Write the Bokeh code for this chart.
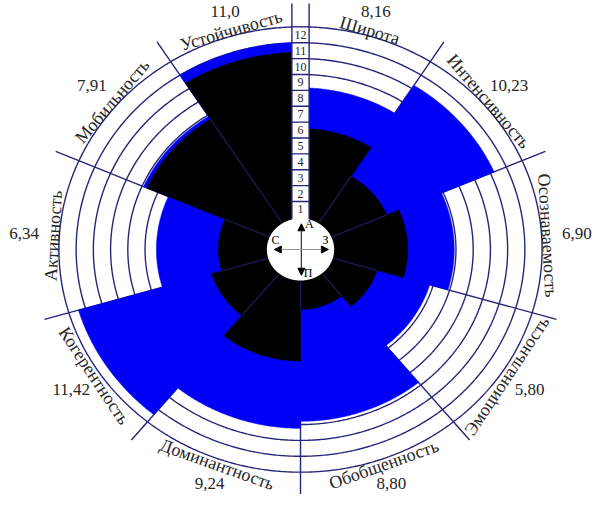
import numpy as np
from bokeh.plotting import figure
from bokeh.models import Range1d, Arrow, NormalHead
from bokeh.embed import file_html
from bokeh.resources import INLINE
from bokeh.core.properties import value

# ---------------- data ----------------
categories = ["Широта", "Интенсивность", "Осознаваемость", "Эмоциональность",
              "Обобщенность", "Доминантность", "Когерентность", "Активность",
              "Мобильность", "Устойчивость"]
outer_values = [8.16, 10.23, 6.90, 5.80, 8.80, 9.24, 11.42, 6.34, 7.91, 11.0]
outer_labels = ["8,16", "10,23", "6,90", "5,80", "8,80", "9,24", "11,42", "6,34", "7,91", "11,0"]
inner_values = [5.6, 3.45, 4.2, 2.6, 1.75, 5.0, 3.35, 2.75, 7.7, 10.4]
scale_ticks = list(range(1, 13))
compass_letters = ["А", "З", "П", "С"]

# ---------------- layout ----------------
sector_edges = [0, 32.5, 66.5, 106.5, 140.7, 180, 219.3, 253.5, 293.5, 327.5, 360]
W, H = 598, 494
S = 0.98
PX = 16.2 * S      # pixels per scale unit (vertical)
SX = 1.085         # horizontal stretch of the drawing
CX, CY = 300.0, 249.0
R0 = 2.025         # radius of value 0 (inner hole)
R_MAX = 12
R_END = 15.5

BLUE = "#0000f6"
NAVY = "#25257a"
TXT = "#262626"
SERIF = "Liberation Serif"

p = figure(width=W, height=H, output_backend="svg", toolbar_location=None,
           x_axis_type=None, y_axis_type=None, min_border=0,
           x_range=Range1d(-CX / (PX * SX), (W - CX) / (PX * SX)),
           y_range=Range1d((CY - H) / PX, CY / PX))
p.grid.visible = False
p.outline_line_color = None
p.background_fill_color = "white"
p.border_fill_color = "white"


def pol(r, deg):
    t = np.radians(deg)
    return r * np.sin(t), r * np.cos(t)


def wedge(a0, a1, r):
    t = np.linspace(a0, a1, 80)
    x, y = pol(r, t)
    return [0.0] + list(x), [0.0] + list(y)


n = len(categories)
a0s = sector_edges[:-1]
a1s = sector_edges[1:]
mids = [(a + b) / 2 for a, b in zip(a0s, a1s)]

# rings (full ellipses, later covered by the wedges)
ring_xs, ring_ys = [], []
tt = np.linspace(0, 360, 721)
for k in scale_ticks:
    x, y = pol(R0 + k, tt)
    ring_xs.append(list(x))
    ring_ys.append(list(y))
p.multi_line(ring_xs, ring_ys, line_color=NAVY, line_width=1.4)

# dividers
dx0, dy0, dx1, dy1 = [], [], [], []
for e in sector_edges[1:-1]:
    xa, ya = pol(R0, e)
    xb, yb = pol(R_END, e)
    dx0.append(xa); dy0.append(ya); dx1.append(xb); dy1.append(yb)
p.segment(dx0, dy0, dx1, dy1, line_color=NAVY, line_width=1.4)

# outer (blue) wedges
bx, by = [], []
for a, b, v in zip(a0s, a1s, outer_values):
    x, y = wedge(a, b, R0 + v)
    bx.append(x); by.append(y)
p.patches(bx, by, fill_color=BLUE, line_color=BLUE, line_width=0.5)

# inner (black) wedges
kx, ky = [], []
for a, b, v in zip(a0s, a1s, inner_values):
    x, y = wedge(a, b, R0 + v)
    kx.append(x); ky.append(y)
p.patches(kx, ky, fill_color="black", line_color="black", line_width=0.5)

# faint dividers visible through black
fx0, fy0, fx1, fy1 = [], [], [], []
for i in range(1, n):
    e = sector_edges[i]
    rr = R0 + min(inner_values[i - 1], inner_values[i])
    xa, ya = pol(R0, e)
    xb, yb = pol(rr, e)
    fx0.append(xa); fy0.append(ya); fx1.append(xb); fy1.append(yb)
p.segment(fx0, fy0, fx1, fy1, line_color="#1c1c5c", line_width=1.2)

# scale column
half = 0.5
p.quad(left=[-half], right=[half], bottom=[R0 - 0.2], top=[R0 + R_MAX],
       fill_color="white", line_color=None)
p.segment([-half] * len(scale_ticks), [R0 + k for k in scale_ticks],
          [half] * len(scale_ticks), [R0 + k for k in scale_ticks],
          line_color=NAVY, line_width=1.4)
p.segment([-half, half], [R0 - 0.1, R0 - 0.1], [-half, half], [R_END, R_END],
          line_color=NAVY, line_width=1.4)
p.text([0] * len(scale_ticks), [R0 + k - 0.5 for k in scale_ticks],
       text=[str(k) for k in scale_ticks], text_align="center",
       text_baseline="middle", text_font=value(SERIF), text_font_size="12px",
       text_color=TXT)

# center hole
cx_, cy_ = pol(R0 - 0.07, tt)
p.patch(list(cx_), list(cy_), fill_color="white", line_color=None)

# compass
p.add_layout(Arrow(start=NormalHead(size=7, fill_color="black", line_color="black"),
                   end=NormalHead(size=7, fill_color="black", line_color="black"),
                   x_start=0.05, y_start=-0.8 * R0, x_end=0.05, y_end=0.8 * R0,
                   line_color="#333333", line_width=1.2))
p.add_layout(Arrow(start=NormalHead(size=7, fill_color="black", line_color="black"),
                   end=NormalHead(size=7, fill_color="black", line_color="black"),
                   x_start=-0.75 * R0, y_start=0.0, x_end=0.8 * R0, y_end=0.0,
                   line_color="#999999", line_width=1.0))
lx = [0.25 * R0, 0.72 * R0, 0.22 * R0, -0.72 * R0]
ly = [0.8 * R0, 0.3 * R0, -0.72 * R0, 0.3 * R0]
p.text(lx, ly, text=compass_letters, text_align="center", text_baseline="middle",
       text_font=value(SERIF), text_font_size="12px", text_color="black")

# category names (tangential)
nx, ny, nang = [], [], []
for m in mids:
    x, y = pol(R0 + 12.35, m)
    nx.append(x); ny.append(y)
    if 90 < m < 270:
        nang.append(np.radians(180 - m))
    else:
        nang.append(np.radians(-m))
p.text(nx, ny, text=categories, angle=nang, text_align="center",
       text_baseline="middle", text_font=value(SERIF), text_font_size="18px",
       text_color=TXT)

# value labels
FS = 17
vx, vy = [], []
for m in mids:
    r = R0 + 13.45 + 0.6 * abs(np.sin(np.radians(m)))
    x, y = pol(r, m)
    vx.append(x); vy.append(y)
p.text(vx, vy, text=outer_labels, text_align="center", text_baseline="middle",
       text_font=value(SERIF), text_font_size=f"{FS}px", text_color=TXT)

open("out.html", "w").write(file_html(p, INLINE))
